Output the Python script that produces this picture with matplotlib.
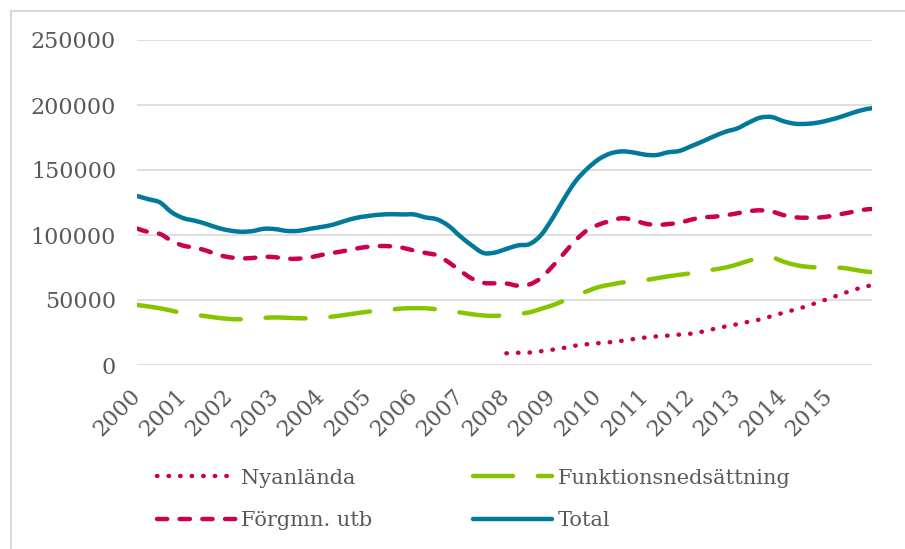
import numpy as np
import matplotlib.pyplot as plt
from matplotlib.lines import Line2D
from matplotlib.path import Path
from matplotlib.patches import PathPatch
import matplotlib.transforms as mtransforms

# data: kvartalsvärden (månadsindex från jan 2000)
months = list(range(0, 192, 3)) + [191]
years = [str(y) for y in range(2000, 2016)]

total = [130000, 127500, 125000, 117500, 113000, 111000, 108500, 105500,
         103500, 102500, 103000, 104800, 104500, 103100, 103200, 104800,
         106200, 108000, 110800, 113200, 114600, 115600, 116000, 115800,
         115800, 113500, 112000, 107000, 99000, 92000, 86200, 86500,
         89300, 92000, 93000, 100000, 113000, 128000, 141500, 151000,
         158300, 162700, 164300, 163500, 161800, 161500, 163600, 164700,
         168300, 172000, 176000, 179500, 182000, 186500, 190300, 190700,
         187500, 185600, 185500, 186500, 188500, 191000, 194000, 196500,
         197500]

forgmn = [105000, 102200, 100800, 95500, 91800, 90300, 88000, 84800,
          82900, 82100, 82300, 83200, 82900, 81800, 81800, 82800,
          84700, 86300, 87800, 89600, 90900, 91500, 91300, 90200,
          88000, 86200, 84300, 79000, 72500, 66500, 63200, 62800,
          62700, 61000, 62000, 67000, 76000, 86000, 96000, 103700,
          108000, 110800, 112900, 111600, 108800, 107800, 108400, 109500,
          111800, 113500, 114100, 115200, 116700, 118300, 119000, 118000,
          115300, 113600, 113300, 113400, 114400, 116100, 117800, 119500,
          120000]

funktion = [46200, 45000, 43600, 41800, 39900, 38700, 37500, 36300,
            35400, 35200, 35500, 36300, 36600, 36300, 36000, 35900,
            36300, 37300, 38500, 39800, 41000, 41700, 42600, 43500,
            43700, 43600, 42800, 41600, 40400, 39100, 38100, 37800,
            38400, 39300, 40500, 43200, 46000, 49500, 53300, 56800,
            60000, 61800, 63400, 64400, 65300, 66700, 68200, 69400,
            70600, 72000, 73500, 75000, 77400, 80200, 82300, 82800,
            79500, 77000, 75600, 75000, 74900, 74800, 73500, 72000,
            71400]

# Nyanlända finns från 2008
nyanlanda = [9000, 9400, 9600, 10600, 11800, 13200, 14900, 16000,
             16800, 17600, 18600, 19900, 21100, 22000, 22600, 23400,
             24100, 25700, 27800, 29700, 31400, 33300, 35100, 37700,
             40200, 42600, 45200, 48300, 51300, 54500, 57500, 60100,
             61300]

blue = '#00799a'
red = '#cb0051'
green = '#86c400'
grey = '#595959'

plt.rcParams['font.family'] = ['DejaVu Serif']


def smooth_path(x, y):
    # utjämnad linje (som Excel), bezierkurvor genom punkterna
    p = np.column_stack([x, y]).astype(float)
    verts = [p[0]]
    codes = [Path.MOVETO]
    n = len(p)
    for i in range(n - 1):
        p0 = p[i - 1] if i > 0 else p[i]
        p3 = p[i + 2] if i + 2 < n else p[i + 1]
        c1 = p[i] + (p[i + 1] - p0) / 6
        c2 = p[i + 1] - (p3 - p[i]) / 6
        verts += [c1, c2, p[i + 1]]
        codes += [Path.CURVE4] * 3
    return Path(verts, codes)


def draw(ax, x, y, **kw):
    patch = PathPatch(smooth_path(x, y), fill=False, lw=3.2,
                      capstyle='round', joinstyle='round', **kw)
    ax.add_patch(patch)


fig = plt.figure(figsize=(9.05, 5.49), dpi=100)
ax = fig.add_axes([137 / 905, 1 - 365 / 549, 735 / 905, 325 / 549])

draw(ax, months[32:], nyanlanda, edgecolor=red, linestyle=(0, (0.1, 2.5)))
draw(ax, months, funktion, edgecolor=green, linestyle=(0, (9.0, 5.6)))
draw(ax, months, forgmn, edgecolor=red, linestyle=(0, (2.3, 2.8)))
draw(ax, months, total, edgecolor=blue, linestyle='solid')

ln_ny = Line2D([], [], color=red, lw=3.2, dash_capstyle='round', dashes=(0.1, 2.5))
ln_fu = Line2D([], [], color=green, lw=3.2, dash_capstyle='round', dashes=(9.0, 5.6))
ln_fo = Line2D([], [], color=red, lw=3.2, dash_capstyle='round', dashes=(2.3, 2.8))
ln_to = Line2D([], [], color=blue, lw=3.2, solid_capstyle='round')

ax.set_xlim(0, 191)
ax.set_ylim(0, 250000)
ax.set_yticks(range(0, 250001, 50000))
ax.set_xticks(range(0, 192, 12))
ax.set_xticklabels(years, rotation=45, ha='right', va='center',
                   rotation_mode='anchor')
offset = mtransforms.ScaledTranslation(4 / 100, 0, fig.dpi_scale_trans)
for lab in ax.get_xticklabels():
    lab.set_transform(lab.get_transform() + offset)
ax.grid(axis='y', color='#d9d9d9', lw=1.2)
ax.set_axisbelow(True)
for s in ax.spines.values():
    s.set_visible(False)
ax.tick_params(axis='y', length=0, pad=15, labelsize=16, labelcolor=grey)
ax.tick_params(axis='x', length=0, pad=20, labelsize=16, labelcolor=grey)

leg = fig.legend([ln_ny, ln_fo, ln_fu, ln_to],
                 ['Nyanlända', 'Förgmn. utb', 'Funktionsnedsättning', 'Total'],
                 ncol=2, loc='upper left', bbox_to_anchor=(138 / 905, 1 - 450 / 549),
                 frameon=False, fontsize=15, handlelength=3.8,
                 columnspacing=4.85, labelspacing=1.13, handletextpad=0.25)
for t in leg.get_texts():
    t.set_color(grey)

# ram runt diagrammet
fig.add_artist(Line2D([11 / 905, 11 / 905], [0, 1 - 11 / 549],
                      color='#d9d9d9', lw=1.5))
fig.add_artist(Line2D([11 / 905, 1], [1 - 11 / 549, 1 - 11 / 549],
                      color='#d9d9d9', lw=1.5))

fig.savefig('out.png', dpi=100)
